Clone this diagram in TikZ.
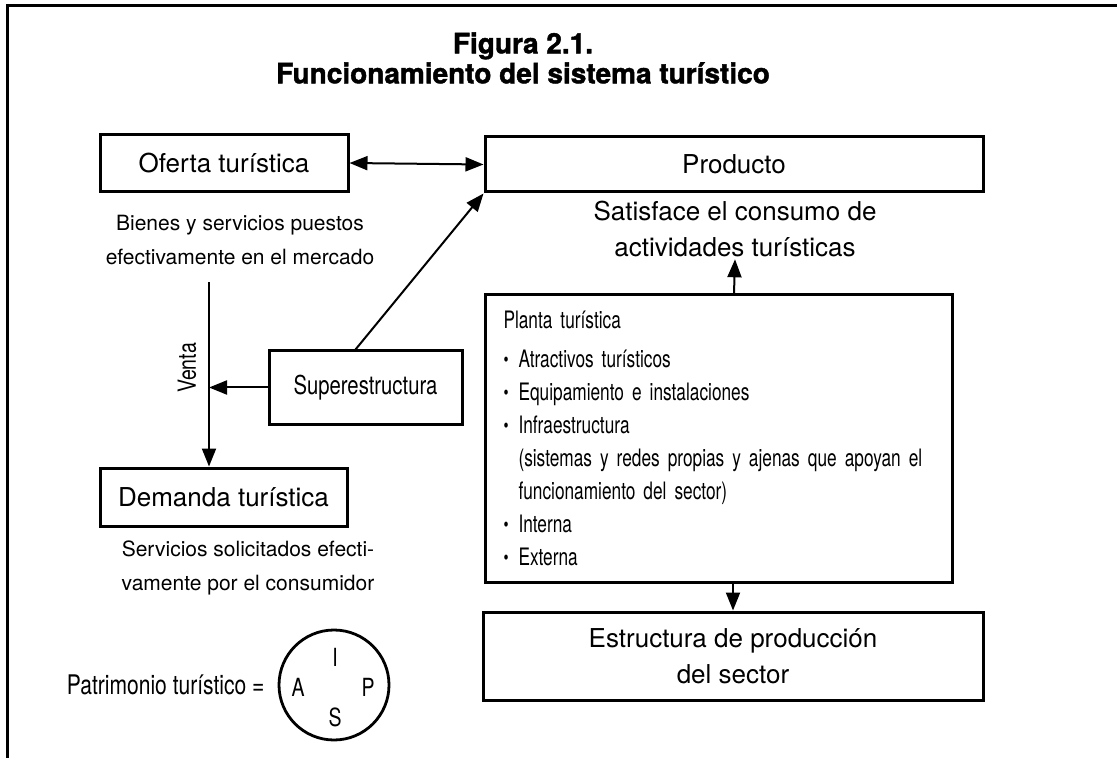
\documentclass[tikz,border=0pt]{standalone}
\usepackage{fontspec}
\setmainfont{TeX Gyre Heros}
\newfontfamily\narrowfont[FakeStretch=0.78]{TeX Gyre Heros}
\newfontfamily\plantafont[FakeStretch=0.72]{TeX Gyre Heros}
\newfontfamily\titlefont[FakeBold=1.5]{TeX Gyre Heros}
\usepackage{tikz}
\usetikzlibrary{positioning}
\usetikzlibrary{arrows.meta}

\newcommand{\itembul}{\makebox[7.5pt][l]{\raisebox{0.4pt}{\fontsize{10}{10}\selectfont •}}}

\begin{document}
\begin{tikzpicture}[x=0.5pt, y=-0.5pt, >={Triangle[length=9pt,width=7pt]},
	box/.style={rectangle, draw=black, line width=1.5pt, inner sep=0pt, font=\fontsize{13}{15}\selectfont},
	note/.style={align=center, inner sep=1pt},
	link/.style={->, line width=1pt}]

		\useasboundingbox (0,0) rectangle (1117,758);
		\draw[line width=1.5pt] (7,758) -- (7,6) -- (1117,6);

		\node[align=center, font=\titlefont\fontsize{14}{15}\selectfont\bfseries](titulo) at (523,58){Figura 2.1.\\Funcionamiento del sistema turístico};

		\node[box, minimum width=124pt, minimum height=28.5pt](ofertaBox) at (224,163){Oferta turística};
		\node[box, minimum width=249pt, minimum height=27.5pt](productoBox) at (734,164.5){Producto};
		\node[box, minimum width=96.5pt, minimum height=36.5pt, font=\narrowfont\fontsize{13}{15}\selectfont](superBox) at (365.5,387.5){Superestructura};
		\node[box, minimum width=123.5pt, minimum height=29pt](demandaBox) at (223.5,497){Demanda turística};
		\node[box, minimum width=250pt, minimum height=44pt, align=center, font=\fontsize{13}{18}\selectfont](estructuraBox) at (733,656){Estructura de producción\\del sector};
		\node[box, text width=215pt, inner xsep=9.25pt, minimum height=143.5pt, align=left, font=\plantafont\fontsize{12}{16.5}\selectfont](plantaBox) at (718.5,438.5){Planta turística\\[3pt]
			\itembul Atractivos turísticos\\
			\itembul Equipamiento e instalaciones\\
			\itembul Infraestructura\\
			\hspace*{7.5pt}(sistemas y redes propias y ajenas que apoyan el\\
			\hspace*{7.5pt}funcionamiento del sector)\\
			\itembul Interna\\
			\itembul Externa};

		\node[note, font=\fontsize{10.5}{17}\selectfont](bienesText) at (240,240){Bienes y servicios puestos\\efectivamente en el mercado};
		\node[note, font=\fontsize{13}{18}\selectfont](satisfaceText) at (735,229){Satisface el consumo de\\actividades turísticas};
		\node[note, font=\fontsize{10.5}{17}\selectfont](serviciosText) at (248,568){Servicios solicitados efecti-\\vamente por el consumidor};

		\coordinate(ventaTop) at (209,282);
		\node[rotate=90, inner sep=0pt, font=\narrowfont\fontsize{12.5}{14}\selectfont](ventaLabel) at (187,368){Venta};

		\node[circle, draw=black, line width=1.4pt, minimum size=55pt, inner sep=0pt](patrimonioCircle) at (334,685){};
		\node[font=\narrowfont\fontsize{12.5}{14}\selectfont, inner sep=0pt](letraI) at (335,657){I};
		\node[font=\narrowfont\fontsize{12.5}{14}\selectfont, inner sep=0pt](letraA) at (298,687){A};
		\node[font=\narrowfont\fontsize{12.5}{14}\selectfont, inner sep=0pt](letraP) at (368,687){P};
		\node[font=\narrowfont\fontsize{12.5}{14}\selectfont, inner sep=0pt](letraS) at (335,717){S};
		\node[font=\narrowfont\fontsize{13.5}{15}\selectfont, left=3pt of patrimonioCircle](patrimonioText){Patrimonio turístico =};

		\draw [<->, line width=1pt] (ofertaBox.east) -- (productoBox.west);
		\draw [link] ([xshift=-5pt]superBox.north) -- (productoBox.south west);
		\draw [line width=1pt] (ventaTop) -- (ventaTop |- superBox.west);
		\draw [link] (ventaTop |- superBox.west) -- (ventaTop |- demandaBox.north);
		\draw [link] (superBox.west) -- (ventaTop |- superBox.west);
		\draw [link] (productoBox.center |- plantaBox.north) -- (satisfaceText.south);
		\draw [link] (estructuraBox.center |- plantaBox.south) -- (estructuraBox.north);

	\end{tikzpicture}
\end{document}
